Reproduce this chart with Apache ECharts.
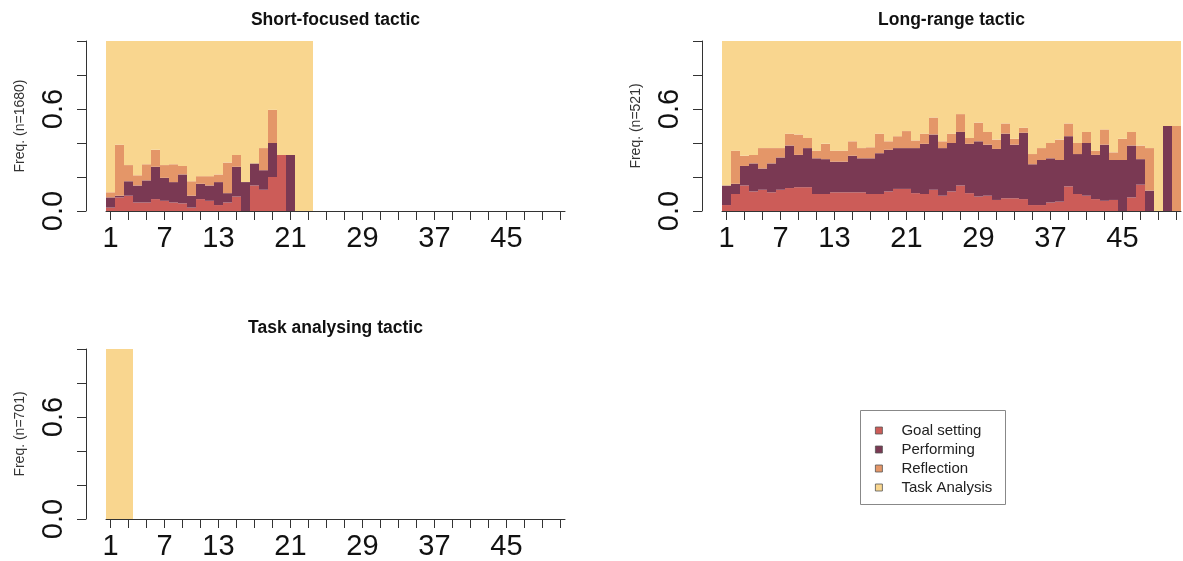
<!DOCTYPE html>
<html><head><meta charset="utf-8">
<script src="https://cdn.jsdelivr.net/npm/echarts@6/dist/echarts.min.js"></script>
<style>html,body{margin:0;padding:0;background:#fff}#c{width:1183px;height:561px}</style>
</head><body><div id="c"></div>
<script>
// ---- data ----
const positions = ['1','2','3','4','5','6','7','8','9','10','11','12','13','14','15','16','17','18','19','20','21','22','23','24','25','26','27','28','29','30','31','32','33','34','35','36','37','38','39','40','41','42','43','44','45','46','47','48','49','50','51'];
const xTickLabels = ['1','7','13','21','29','37','45'];
const yTickLabels = ['0.0','0.6'];
const states = ['Goal setting','Performing','Reflection','Task Analysis'];
const panelTitles = ['Short-focused tactic','Long-range tactic','Task analysing tactic'];
const panelNames = ['Freq. (n=1680)','Freq. (n=521)','Freq. (n=701)'];

const shortGoal = [0.02,0.08,0.09,0.05,0.05,0.07,0.06,0.05,0.045,0.02,0.07,0.06,0.035,0.05,0.085,0,0.15,0.125,0.2,0.33,0,0,0];
const shortPerf = [0.06,0.01,0.085,0.10,0.13,0.19,0.135,0.12,0.17,0.07,0.09,0.09,0.135,0.055,0.175,0.17,0.13,0.115,0.2,0,0.33,0,0];
const shortRefl = [0.03,0.30,0.095,0.06,0.095,0.10,0.075,0.105,0.05,0.085,0.045,0.055,0.045,0.18,0.07,0,0,0.13,0.195,0,0,0,0];
const shortTask = [0.89,0.61,0.73,0.79,0.725,0.64,0.73,0.725,0.735,0.825,0.795,0.795,0.785,0.715,0.67,0.83,0.72,0.63,0.405,0.67,0.67,1,1];

const longGoal = [0.035,0.10,0.15,0.115,0.125,0.11,0.125,0.135,0.14,0.14,0.10,0.10,0.11,0.11,0.11,0.11,0.10,0.10,0.115,0.13,0.13,0.105,0.10,0.125,0.09,0.115,0.15,0.105,0.085,0.09,0.065,0.075,0.075,0.07,0.035,0.035,0.05,0.055,0.145,0.10,0.09,0.07,0.06,0.065,0,0.08,0.155,0,0,0,0];
const longPerf = [0.115,0.06,0.115,0.165,0.125,0.17,0.19,0.25,0.19,0.23,0.21,0.205,0.18,0.18,0.215,0.20,0.21,0.24,0.245,0.24,0.24,0.265,0.295,0.325,0.28,0.285,0.315,0.29,0.325,0.30,0.30,0.38,0.315,0.39,0.24,0.265,0.26,0.245,0.295,0.235,0.31,0.26,0.33,0.235,0.30,0.305,0.15,0.12,0,0.50,0];
const longRefl = [0,0.195,0.06,0.05,0.12,0.09,0.055,0.07,0.12,0.06,0.045,0.09,0.065,0.065,0.085,0.06,0.065,0.115,0.05,0.07,0.10,0.045,0.06,0.10,0.04,0.055,0.105,0.035,0.11,0.075,0.055,0.06,0.035,0.03,0.06,0.07,0.09,0.12,0.075,0.065,0.065,0.025,0.09,0.045,0.125,0.08,0.08,0.25,0,0,0.50];
const longTask = [0.85,0.645,0.675,0.67,0.63,0.63,0.63,0.545,0.55,0.57,0.645,0.605,0.645,0.645,0.59,0.63,0.625,0.545,0.59,0.56,0.53,0.585,0.545,0.45,0.59,0.545,0.43,0.57,0.48,0.535,0.58,0.485,0.575,0.51,0.665,0.63,0.60,0.58,0.485,0.60,0.535,0.645,0.52,0.655,0.575,0.535,0.615,0.63,1,0.50,0.50];

const taskGoal = [0,0,0];
const taskPerf = [0,0,0];
const taskRefl = [0,0,0];
const taskTask = [1,1,1];

// ---- styles ----
const colors = ['#CC5C58','#7A3953','#E49668','#F9D68F'];
const FONT = '"Liberation Sans", Arial, Helvetica, sans-serif';
const axisColor = '#333';

const panels = [
  {left:106, top:41, width:459, height:170, data:[shortGoal,shortPerf,shortRefl,shortTask]},
  {left:722, top:41, width:459, height:170, data:[longGoal,longPerf,longRefl,longTask]},
  {left:106, top:349, width:459, height:170, data:[taskGoal,taskPerf,taskRefl,taskTask]}
];

const grid = [], xAxis = [], yAxis = [], series = [], title = [];
panels.forEach((p, i) => {
  grid.push({left:p.left, top:p.top, width:p.width, height:p.height, containLabel:false});
  title.push({text:panelTitles[i], left:p.left + p.width/2, top:p.top - 30, textAlign:'center', padding:0,
    textStyle:{fontFamily:FONT, fontSize:17.5, fontWeight:'bold', color:'#111'}});
  xAxis.push({
    gridIndex:i, type:'category', data:positions, offset:3,
    axisLine:{show:true, lineStyle:{color:axisColor, width:1}},
    axisTick:{show:true, interval:1, alignWithLabel:true, length:9, lineStyle:{color:axisColor, width:1}},
    axisLabel:{interval:(idx, val) => xTickLabels.includes(val), fontFamily:FONT, fontSize:29, color:'#111', margin:10},
    splitLine:{show:false}
  });
  yAxis.push({
    gridIndex:i, type:'value', min:0, max:1, interval:0.2, offset:20,
    axisLine:{show:true, lineStyle:{color:axisColor, width:1}},
    axisTick:{show:true, length:9, lineStyle:{color:axisColor, width:1}},
    splitLine:{show:false},
    axisLabel:{rotate:90, fontFamily:FONT, fontSize:29, color:'#111', margin:18,
      formatter:(v) => { const s = v.toFixed(1); return yTickLabels.includes(s) ? s : ''; }},
    name:panelNames[i], nameLocation:'middle', nameRotate:90, nameGap:59,
    nameTextStyle:{fontFamily:FONT, fontSize:14, color:'#333'}
  });
  states.forEach((s, k) => {
    series.push({
      name:s, type:'bar', stack:'p'+i, xAxisIndex:i, yAxisIndex:i,
      data:p.data[k], barWidth:'100%', barCategoryGap:'0%',
      itemStyle:{color:colors[k]}, emphasis:{disabled:true}, silent:true
    });
  });
});

const chart = echarts.init(document.getElementById('c'), null, {renderer:'canvas'});
chart.setOption({
  animation:false,
  backgroundColor:'#fff',
  color:colors,
  title, grid, xAxis, yAxis, series,
  legend:{
    data:states, orient:'vertical', left:875, top:423, padding:0,
    itemWidth:7, itemHeight:7, itemGap:4, icon:'rect',
    itemStyle:{borderColor:'#555', borderWidth:0.8},
    textStyle:{fontFamily:FONT, fontSize:15, lineHeight:15, color:'#222', padding:[0,0,0,14]},
    selectedMode:false
  },
  graphic:[{type:'rect', shape:{x:860.5, y:410.5, width:145, height:94},
    style:{fill:'none', stroke:'#888', lineWidth:1}, silent:true}]
});
</script>
</body></html>
